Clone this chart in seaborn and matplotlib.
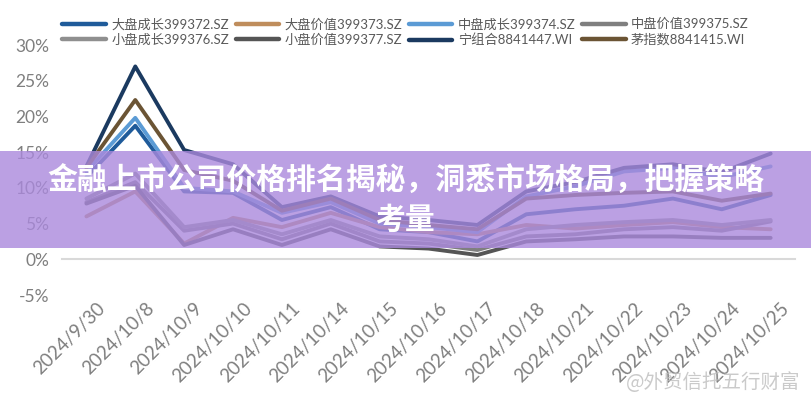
import matplotlib.pyplot as plt
import matplotlib.transforms as mtransforms
from matplotlib.lines import Line2D
from matplotlib.patches import Rectangle
import pandas as pd
import seaborn as sns

# 日期（交易日）
dates = ['2024/9/30', '2024/10/8', '2024/10/9', '2024/10/10', '2024/10/11',
         '2024/10/14', '2024/10/15', '2024/10/16', '2024/10/17', '2024/10/18',
         '2024/10/21', '2024/10/22', '2024/10/23', '2024/10/24', '2024/10/25']

# 各指数累计涨跌幅 (%)
dapan_cz = [11.5, 18.7, 9.5, 9.3, 5.5, 7.3, 4.2, 3.8, 2.5, 6.3, 7.0, 7.5, 8.5, 7.0, 9.0]
dapan_jz = [6.0, 9.5, 2.2, 5.8, 4.5, 6.5, 4.5, 3.8, 3.5, 4.8, 4.3, 4.8, 5.2, 4.5, 4.2]
zhongpan_cz = [12.3, 19.8, 10.0, 9.5, 6.5, 8.0, 5.0, 4.5, 3.8, 8.8, 10.2, 12.3, 12.8, 11.5, 13.0]
zhongpan_jz = [8.0, 10.8, 4.0, 5.0, 2.8, 5.0, 2.5, 2.2, 1.3, 3.2, 3.5, 4.2, 4.5, 4.0, 5.3]
xiaopan_cz = [8.5, 12.0, 4.5, 5.5, 3.5, 5.5, 3.2, 2.8, 1.8, 4.2, 4.8, 5.2, 5.5, 4.8, 5.5]
xiaopan_jz = [7.8, 10.3, 2.0, 4.2, 2.0, 4.2, 1.8, 1.5, 0.6, 2.5, 2.8, 3.2, 3.2, 3.0, 3.0]
ning_zuhe = [13.0, 27.0, 15.3, 13.3, 7.3, 8.8, 6.0, 5.5, 4.8, 9.5, 10.8, 12.8, 13.3, 12.2, 14.8]
mao_zhishu = [12.8, 22.3, 12.5, 11.0, 6.8, 8.5, 5.5, 4.8, 4.2, 8.5, 9.0, 9.3, 9.5, 8.2, 9.2]

names = ['大盘成长399372.SZ', '大盘价值399373.SZ', '中盘成长399374.SZ', '中盘价值399375.SZ',
         '小盘成长399376.SZ', '小盘价值399377.SZ', '宁组合8841447.WI', '茅指数8841415.WI']
colors = ['#1f5b9a', '#bf8d5c', '#5b9bd5', '#7f7f7f',
          '#8f8f8f', '#555555', '#1b3a60', '#6b5434']

df = pd.DataFrame({
    'pos': range(len(dates)),
    names[0]: dapan_cz, names[1]: dapan_jz, names[2]: zhongpan_cz, names[3]: zhongpan_jz,
    names[4]: xiaopan_cz, names[5]: xiaopan_jz, names[6]: ning_zuhe, names[7]: mao_zhishu,
})
long_df = df.melt(id_vars='pos', var_name='指数', value_name='涨跌幅')

sns.set_style('white')
plt.rcParams['font.family'] = ['Lato', 'Noto Sans CJK SC', 'DejaVu Sans']

fig = plt.figure(figsize=(8.11, 4.0), dpi=100)
ax = fig.add_axes([0.0764, 0.2625, 0.904, 0.625])

sns.lineplot(data=long_df, x='pos', y='涨跌幅', hue='指数', hue_order=names,
             palette=dict(zip(names, colors)), linewidth=2.8, legend=False, ax=ax)

ax.set_xlim(-0.5, len(dates) - 0.5)
ax.set_ylim(-5, 30)
yt = [-5, 0, 5, 10, 15, 20, 25, 30]
ax.set_yticks(yt)
ax.set_yticklabels([f'{v}%' for v in yt], fontsize=12.5, color='#7f7f7f')
ax.tick_params(axis='y', length=0, pad=9)

# 横轴放在 0 处，刻度线在类别之间
for s in ['left', 'right', 'top']:
    ax.spines[s].set_visible(False)
ax.spines['bottom'].set_position(('data', 0))
ax.spines['bottom'].set_color('#d9d9d9')
ax.spines['bottom'].set_linewidth(1.5)
ax.set_xticks(range(len(dates)))
ax.set_xticks([i - 0.5 for i in range(len(dates) + 1)], minor=True)
ax.tick_params(axis='x', which='minor', length=6, width=1.3, color='#d9d9d9', direction='out')
ax.tick_params(axis='x', which='major', length=0, pad=29)
ax.set_xticklabels(dates, fontsize=13.5, color='#7f7f7f', rotation=45,
                   ha='right', va='top', rotation_mode='anchor')
shift = mtransforms.ScaledTranslation(7 / 72, 0, fig.dpi_scale_trans)
for lab in ax.get_xticklabels():
    lab.set_transform(lab.get_transform() + shift)
ax.set_xlabel('')
ax.set_ylabel('')
ax.grid(False)

# 图例：按行排列
handles = [Line2D([0], [0], color=c, lw=3.2) for c in colors]
order = [0, 4, 1, 5, 2, 6, 3, 7]
leg = ax.legend([handles[i] for i in order], [names[i] for i in order],
                loc='upper center', bbox_to_anchor=(0.5, 0.985), bbox_transform=fig.transFigure,
                ncol=4, frameon=False, fontsize=9.5, handlelength=3.3, handletextpad=0.4,
                columnspacing=0.5, labelspacing=0.25)
for t in leg.get_texts():
    t.set_color('#595959')

# 标题横幅
fig.add_artist(Rectangle((0, 1 - 248 / 400), 1, 97 / 400, transform=fig.transFigure,
                         facecolor='#aa89dc', alpha=0.8, edgecolor='none', zorder=5))
fig.text(0.5, 1 - 181 / 400, '金融上市公司价格排名揭秘，洞悉市场格局，把握策略',
         ha='center', va='center', fontsize=21.5, color='white', fontweight='heavy',
         family=['Noto Sans CJK SC'], zorder=6)
fig.text(0.5, 1 - 220 / 400, '考量', ha='center', va='center', fontsize=21.5,
         color='white', fontweight='heavy', family=['Noto Sans CJK SC'], zorder=6)

# 水印
fig.text(0.987, 1 - 383 / 400, '@外贸信托五行财富', ha='right', va='center', fontsize=14,
         color='#bdbdbd', alpha=0.8, family=['Noto Sans CJK SC', 'DejaVu Sans'], zorder=6)

fig.savefig('out.png', dpi=100)
